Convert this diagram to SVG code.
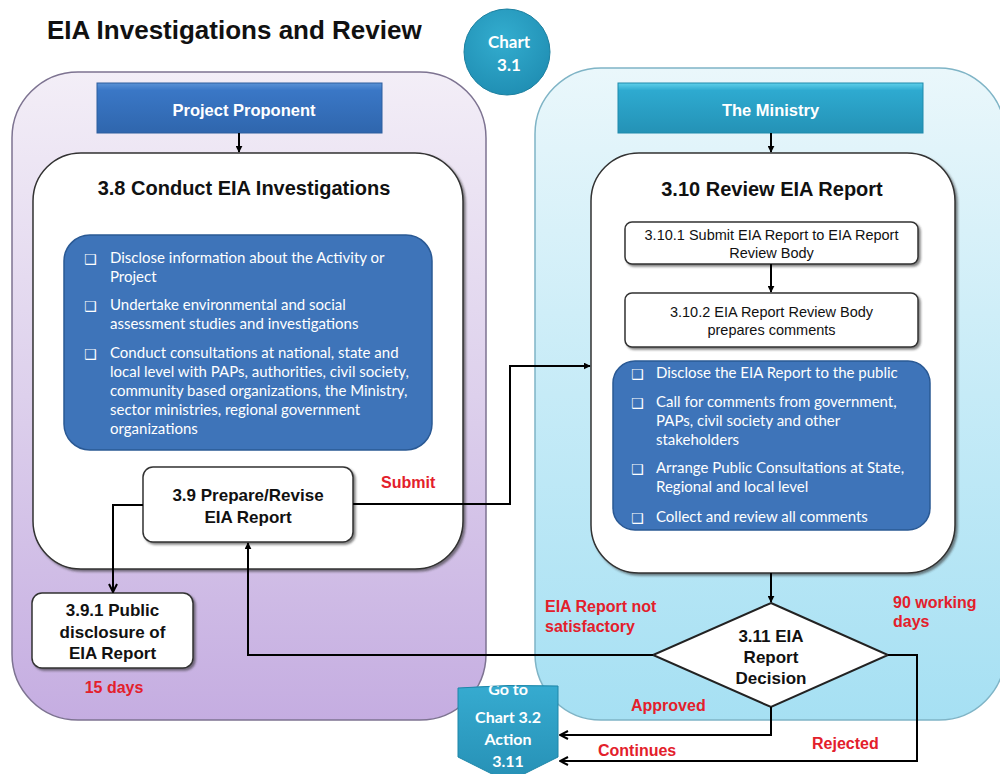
<svg xmlns="http://www.w3.org/2000/svg" width="1000" height="774" viewBox="0 0 1000 774">
<defs>
<linearGradient id="gPurple" x1="0" y1="0" x2="0" y2="1">
<stop offset="0" stop-color="#f3eef7"/><stop offset="0.5" stop-color="#ddd0ec"/><stop offset="1" stop-color="#c5ade1"/>
</linearGradient>
<linearGradient id="gCyan" x1="0" y1="0" x2="0" y2="1">
<stop offset="0" stop-color="#eaf7fb"/><stop offset="0.5" stop-color="#c6ebf7"/><stop offset="1" stop-color="#a6e0f3"/>
</linearGradient>
<linearGradient id="gBlueHead" x1="0" y1="0" x2="0" y2="1">
<stop offset="0" stop-color="#5b93d6"/><stop offset="0.15" stop-color="#3a77c6"/><stop offset="1" stop-color="#2f66ad"/>
</linearGradient>
<linearGradient id="gTealHead" x1="0" y1="0" x2="0" y2="1">
<stop offset="0" stop-color="#5fd0ea"/><stop offset="0.15" stop-color="#2eaad0"/><stop offset="1" stop-color="#2492b6"/>
</linearGradient>
<radialGradient id="gCircle" cx="0.45" cy="0.35" r="0.7">
<stop offset="0" stop-color="#33adcf"/><stop offset="1" stop-color="#1f8db2"/>
</radialGradient>
<linearGradient id="gGoto" x1="0" y1="0" x2="0" y2="1">
<stop offset="0" stop-color="#36abd0"/><stop offset="1" stop-color="#2690b5"/>
</linearGradient>
<filter id="shadow" x="-5%" y="-5%" width="115%" height="115%">
<feDropShadow dx="2" dy="2" stdDeviation="1" flood-color="#333" flood-opacity="0.6"/>
</filter>
<marker id="arrow" viewBox="0 0 10 10" refX="9" refY="5" markerWidth="7" markerHeight="7" orient="auto" markerUnits="userSpaceOnUse">
<path d="M0,0 L10,5 L0,10 Z" fill="#000"/>
</marker>
<marker id="chev" viewBox="0 0 10 10" refX="9" refY="5" markerWidth="10" markerHeight="10" orient="auto" markerUnits="userSpaceOnUse">
<path d="M1,1 L9,5 L1,9" fill="none" stroke="#000" stroke-width="2"/>
</marker>
<clipPath id="gotoClip"><path d="M458,688 Q508,684 558,686 L558,757 L508,782 L458,757 Z"/></clipPath>
<style>
.title{font-family:"Liberation Sans",Arial,sans-serif;font-weight:bold;font-size:26px;fill:#111}
.head{font-family:"Liberation Sans",Arial,sans-serif;font-weight:bold;font-size:16.5px;fill:#fff}
.big{font-family:"Liberation Sans",Arial,sans-serif;font-weight:bold;font-size:20px;fill:#111;text-anchor:middle}
.box{font-family:"Liberation Sans",Arial,sans-serif;font-weight:bold;font-size:17px;fill:#111;text-anchor:middle}
.sub{font-family:"Liberation Sans",Arial,sans-serif;font-size:14.5px;fill:#111;text-anchor:middle}
.bul{font-family:Lato,"Liberation Sans",sans-serif;font-size:15px;fill:#fff}
.chk{font-family:"DejaVu Sans",sans-serif;font-size:14px;fill:#fff}
.red{font-family:"Liberation Sans",Arial,sans-serif;font-weight:bold;font-size:16px;fill:#e3202b}
.cal{font-family:Lato,"Liberation Sans",sans-serif;font-weight:bold;fill:#fff;text-anchor:middle}
.wbox{fill:#fff;stroke:#333;stroke-width:1.5;filter:url(#shadow)}
.list{fill:#3e74b9;stroke:#2a5994;stroke-width:1.5}
.conn{fill:none;stroke:#000;stroke-width:2}
</style>
</defs>
<rect width="1000" height="774" fill="#fff"/>
<text class="title" x="47" y="39">EIA Investigations and Review</text>

<g id="lane-proponent">
<rect x="12" y="72" width="474" height="648" rx="66" ry="66" fill="url(#gPurple)" stroke="#7d7391" stroke-width="1.5"/>
</g>
<g id="lane-ministry">
<rect x="535" y="68" width="470" height="652" rx="66" ry="66" fill="url(#gCyan)" stroke="#7fb4c6" stroke-width="1.5"/>
</g>

<g id="chart31">
<circle cx="507" cy="52" r="43" fill="url(#gCircle)" stroke="#1b7f9f" stroke-width="1"/>
<text class="cal" x="509" y="48" font-size="17">Chart</text>
<text class="cal" x="509" y="71" font-size="17">3.1</text>
</g>

<g id="project-proponent">
<rect x="97" y="83" width="285" height="50" fill="url(#gBlueHead)" stroke="#2c5e9e" stroke-width="1"/>
<text class="head" x="244" y="116" text-anchor="middle">Project Proponent</text>
</g>
<g id="the-ministry">
<rect x="618" y="83" width="305" height="50" fill="url(#gTealHead)" stroke="#1f8aab" stroke-width="1"/>
<text class="head" x="770.5" y="116" text-anchor="middle">The Ministry</text>
</g>

<g id="n38">
<rect class="wbox" x="33" y="153" width="430" height="416" rx="48" ry="48"/>
<text class="big" x="244" y="195">3.8 Conduct EIA Investigations</text>
<rect class="list" x="64" y="235" width="368" height="215" rx="26" ry="26"/>
<text class="chk" x="84" y="264">❑</text>
<text class="bul" x="110" y="263">Disclose information about the Activity or</text>
<text class="bul" x="110" y="282">Project</text>
<text class="chk" x="84" y="311">❑</text>
<text class="bul" x="110" y="310">Undertake environmental and social</text>
<text class="bul" x="110" y="329">assessment studies and investigations</text>
<text class="chk" x="84" y="359">❑</text>
<text class="bul" x="110" y="358">Conduct consultations at national, state and</text>
<text class="bul" x="110" y="377">local level with PAPs, authorities, civil society,</text>
<text class="bul" x="110" y="396">community based organizations, the Ministry,</text>
<text class="bul" x="110" y="415">sector ministries, regional government</text>
<text class="bul" x="110" y="434">organizations</text>
</g>

<g id="n39">
<rect class="wbox" x="143" y="467" width="210" height="75" rx="10" ry="10"/>
<text class="box" x="248" y="501">3.9 Prepare/Revise</text>
<text class="box" x="248" y="523">EIA Report</text>
</g>

<g id="n391">
<rect class="wbox" x="32" y="593" width="161" height="75" rx="10" ry="10"/>
<text class="box" x="112.5" y="616">3.9.1 Public</text>
<text class="box" x="112.5" y="638">disclosure of</text>
<text class="box" x="112.5" y="659">EIA Report</text>
</g>

<g id="n310">
<rect class="wbox" x="591" y="153" width="364" height="420" rx="48" ry="48"/>
<text class="big" x="772" y="196">3.10 Review EIA Report</text>
</g>
<g id="n3101">
<rect class="wbox" x="625" y="222" width="293" height="42" rx="7" ry="7"/>
<text class="sub" x="771.5" y="240">3.10.1 Submit EIA Report to EIA Report</text>
<text class="sub" x="771.5" y="258">Review Body</text>
</g>
<g id="n3102">
<rect class="wbox" x="625" y="293" width="293" height="54" rx="7" ry="7"/>
<text class="sub" x="771.5" y="317">3.10.2 EIA Report Review Body</text>
<text class="sub" x="771.5" y="335">prepares comments</text>
</g>
<g id="n310-list">
<rect class="list" x="613" y="361" width="317" height="169" rx="22" ry="22"/>
<text class="chk" x="631" y="379">❑</text>
<text class="bul" x="656" y="378">Disclose the EIA Report to the public</text>
<text class="chk" x="631" y="408">❑</text>
<text class="bul" x="656" y="407">Call for comments from government,</text>
<text class="bul" x="656" y="426">PAPs, civil society and other</text>
<text class="bul" x="656" y="445">stakeholders</text>
<text class="chk" x="631" y="474">❑</text>
<text class="bul" x="656" y="473">Arrange Public Consultations at State,</text>
<text class="bul" x="656" y="492">Regional and local level</text>
<text class="chk" x="631" y="523">❑</text>
<text class="bul" x="656" y="522">Collect and review all comments</text>
</g>

<g id="n311">
<path d="M771,603 L888,655 L771,707 L653,655 Z" fill="#fff" stroke="#222" stroke-width="2"/>
<text class="box" x="771" y="642">3.11 EIA</text>
<text class="box" x="771" y="663">Report</text>
<text class="box" x="771" y="684">Decision</text>
</g>

<g id="connectors">
<path class="conn" d="M239,133 V152" marker-end="url(#arrow)"/>
<path class="conn" d="M771,133 V152" marker-end="url(#arrow)"/>
<path class="conn" d="M353,504 H510 V366 H590" marker-end="url(#arrow)"/>
<path class="conn" d="M143,505 H113 V592" marker-end="url(#chev)"/>
<path class="conn" d="M771,264 V292" marker-end="url(#arrow)"/>
<path class="conn" d="M771,573 V602" marker-end="url(#arrow)"/>
<path class="conn" d="M653,655 H248 V543" marker-end="url(#arrow)"/>
<path class="conn" d="M771,707 V735 H560" marker-end="url(#chev)"/>
<path class="conn" d="M888,655 H917 V761 H560" marker-end="url(#chev)"/>
</g>

<g id="goto">
<path d="M458,688 Q508,684 558,686 L558,757 L508,782 L458,757 Z" fill="url(#gGoto)" stroke="#1f86a8" stroke-width="1"/>
<g clip-path="url(#gotoClip)">
<text class="cal" x="508" y="695" font-size="16">Go to</text>
</g>
<text class="cal" x="508" y="723" font-size="16">Chart 3.2</text>
<text class="cal" x="508" y="745" font-size="16">Action</text>
<text class="cal" x="508" y="767" font-size="16">3.11</text>
</g>

<g id="labels">
<text class="red" x="381" y="488">Submit</text>
<text class="red" x="114" y="693" text-anchor="middle">15 days</text>
<text class="red" x="545" y="612">EIA Report not</text>
<text class="red" x="545" y="632">satisfactory</text>
<text class="red" x="893" y="608">90 working</text>
<text class="red" x="893" y="627">days</text>
<text class="red" x="631" y="711">Approved</text>
<text class="red" x="598" y="756">Continues</text>
<text class="red" x="812" y="749">Rejected</text>
</g>
</svg>
